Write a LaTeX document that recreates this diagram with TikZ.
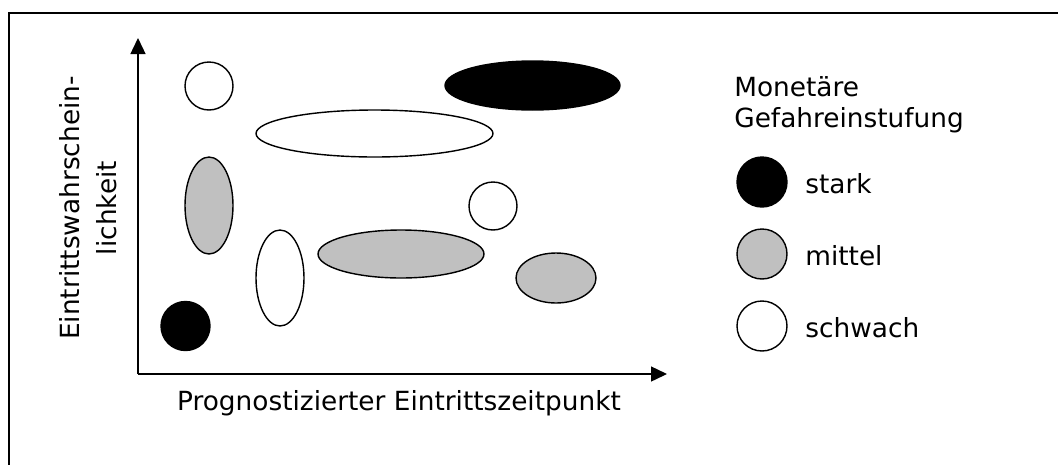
\documentclass[tikz,border=0pt]{standalone}
\usepackage{fontspec}
\setmainfont{DejaVu Sans}
\usetikzlibrary{shapes.geometric,arrows.meta}
\definecolor{midgrey}{HTML}{C0C0C0}
\begin{document}
\begin{tikzpicture}[x=0.02cm,y=-0.02cm,
  blob/.style={ellipse,draw=black,line width=0.8pt,inner sep=0pt},
  strong/.style={blob,fill=black},
  medium/.style={blob,fill=midgrey},
  weak/.style={blob,fill=white},
  axis/.style={line width=0.8pt,-{Triangle[length=0.32cm,width=0.3cm]}},
  lbl/.style={font=\fontsize{15}{18}\selectfont,inner sep=0pt}]
\useasboundingbox (0,0) rectangle (1058,464);
\draw[line width=0.9pt] (9,480) -- (9,13) -- (1080,13);
% axes
\coordinate (O) at (138,374);
\coordinate (ytop) at (138,38);
\coordinate (xend) at (667,374);
\draw[axis] (O) -- (ytop);
\draw[axis] (O) -- (xend);
\node[lbl,anchor=center] (xlab) at (399,403) {Prognostizierter Eintrittszeitpunkt};
\node[lbl,font=\fontsize{15}{21}\selectfont,rotate=90,align=center] (ylab) at (88,208) {Eintrittswahrschein-\\lichkeit};
% data
\node[weak,minimum width=0.96cm,minimum height=0.96cm] (a) at (209,86) {};
\node[strong,minimum width=3.5cm,minimum height=0.98cm] (b) at (532.5,85.5) {};
\node[weak,minimum width=4.74cm,minimum height=0.94cm] (c) at (374.5,133.5) {};
\node[medium,minimum width=0.96cm,minimum height=1.94cm] (d) at (209,205.5) {};
\node[weak,minimum width=0.96cm,minimum height=0.96cm] (e) at (493,206) {};
\node[weak,minimum width=0.96cm,minimum height=1.92cm] (f) at (280,278) {};
\node[medium,minimum width=3.32cm,minimum height=0.96cm] (g) at (401,254) {};
\node[medium,minimum width=1.6cm,minimum height=1.0cm] (h) at (556,278) {};
\node[strong,minimum width=0.98cm,minimum height=0.98cm] (i) at (185.5,326) {};
% legend
\node[lbl,anchor=north west,align=left] (ltitle) at (734,76) {Monetäre\\Gefahreinstufung};
\node[strong,minimum width=1.0cm,minimum height=1.0cm] (ls) at (762,182) {};
\node[medium,minimum width=1.0cm,minimum height=1.0cm] (lm) at (762,254) {};
\node[weak,minimum width=1.0cm,minimum height=1.0cm] (lw) at (762,326) {};
\node[lbl,anchor=west] (ts) at (805,184) {stark};
\node[lbl,anchor=west] (tm) at (805,256) {mittel};
\node[lbl,anchor=west] (tw) at (805,328) {schwach};
\end{tikzpicture}
\end{document}
